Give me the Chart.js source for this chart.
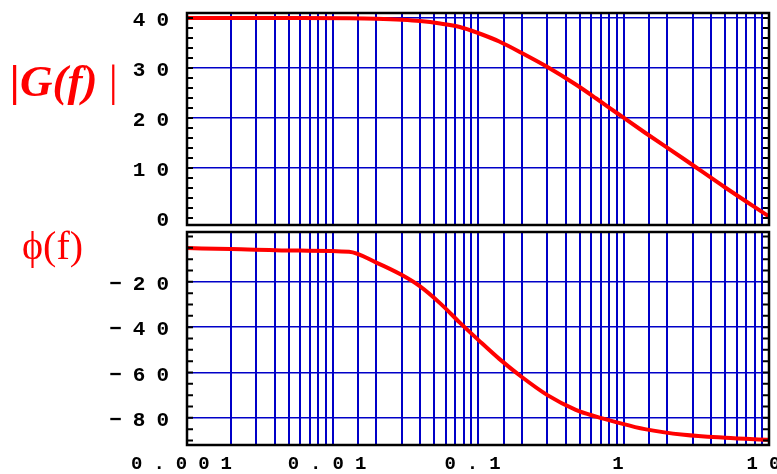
<!DOCTYPE html>
<html>
<head>
<meta charset="utf-8">
<script src="https://cdn.jsdelivr.net/npm/chart.js@4/dist/chart.umd.min.js"></script>
<style>
  html, body { margin: 0; padding: 0; background: #fff; }
  #wrap { position: relative; width: 777px; height: 474px; overflow: hidden; }
  #magBox { position: absolute; left: 0; top: 0; }
  #phaseBox { position: absolute; left: 0; top: 227px; }
  .lbl { position: absolute; color: #ff0000; font-family: "Liberation Serif", serif; line-height: 1; white-space: nowrap; }
  #magLabel { left: 10px; top: 59px; font-size: 45px; }
  #magLabel b { font-style: italic; }
  #phaseLabel { left: 22px; top: 226px; font-size: 40px; }
</style>
</head>
<body>
<div id="wrap">
  <canvas id="magBox" width="777" height="227"></canvas>
  <canvas id="phaseBox" width="777" height="247"></canvas>
  <div class="lbl" id="magLabel"><b>|G(f)</b> |</div>
  <div class="lbl" id="phaseLabel">ϕ(f)</div>
</div>
<script>
// values
const freq     = [0.001, 0.002, 0.006, 0.013, 0.02, 0.03, 0.04, 0.055, 0.075, 0.1, 0.14, 0.2, 0.3, 0.47, 0.65, 0.9, 1.4, 2.6, 5, 10];
const gainDb   = [40, 40, 40, 39.95, 39.85, 39.65, 39.4, 38.9, 38.2, 37.0, 35.3, 33.0, 30.2, 26.7, 23.9, 21.0, 17.1, 11.8, 6.1, 0.3];
const phaseDeg = [-5.1, -5.5, -6.2, -6.7, -11.5, -17, -22, -29.5, -38, -45.5, -54, -62, -70, -76.5, -79.5, -82, -85, -87.5, -88.8, -89.7];

const magTicks = [0, 10, 20, 30, 40];
const phaseTicks = [-20, -40, -60, -80];
const freqTicks = [0.001, 0.01, 0.1, 1, 10];
const freqTickLabels = ["0.001", "0.01", "0.1", "1", "10"];

const gridBlue = "#0000c8";
const yFont = { family: '"Liberation Mono", monospace', size: 21, weight: "bold" };
const xFont = { family: '"Liberation Mono", monospace', size: 19, weight: "bold" };

// wide letter spacing for the tick labels, a box round the plot and small inside ticks
const framePlugin = {
    id: "frame",
    beforeUpdate(chart) { chart.ctx.letterSpacing = "11px"; },
    beforeDraw(chart) { chart.ctx.letterSpacing = "11px"; },
    afterDraw(chart, args, opts) {
        const ctx = chart.ctx;
        const a = chart.chartArea;
        const y = chart.scales.y;
        ctx.save();
        ctx.strokeStyle = "#000";
        ctx.lineWidth = 2;
        ctx.beginPath();
        const start = Math.ceil(y.min / opts.step) * opts.step;
        for (let v = start; v <= y.max; v += opts.step) {
            const py = y.getPixelForValue(v);
            ctx.moveTo(a.left, py);
            ctx.lineTo(a.left + 6, py);
            ctx.moveTo(a.right, py);
            ctx.lineTo(a.right - 6, py);
        }
        ctx.stroke();
        ctx.lineWidth = 2.5;
        ctx.strokeRect(a.left, a.top, a.right - a.left, a.bottom - a.top);
        ctx.restore();
    }
};

function makePanel(canvasId, values, yMin, yMax, yTicks, yLabel, minorStep, showX, pad) {
    const ctx = document.getElementById(canvasId).getContext("2d");
    return new Chart(ctx, {
        type: "line",
        data: {
            datasets: [{
                data: freq.map((f, i) => ({ x: f, y: values[i] })),
                borderColor: "#ff0000",
                borderWidth: 4,
                pointRadius: 0,
                cubicInterpolationMode: "monotone",
                fill: false
            }]
        },
        options: {
            responsive: false,
            animation: false,
            devicePixelRatio: 1,
            layout: { padding: pad },
            plugins: {
                legend: { display: false },
                tooltip: { enabled: false },
                frame: { step: minorStep }
            },
            scales: {
                x: {
                    type: "logarithmic",
                    min: 0.001,
                    max: 10,
                    border: { display: false },
                    grid: { color: gridBlue, lineWidth: 2, drawTicks: false },
                    ticks: {
                        display: showX,
                        autoSkip: false,
                        maxRotation: 0,
                        padding: 8,
                        color: "#000",
                        font: xFont,
                        callback: function (value) {
                            const idx = freqTicks.findIndex(f => Math.abs(Math.log10(f) - Math.log10(value)) < 1e-6);
                            return idx >= 0 ? freqTickLabels[idx] : "";
                        }
                    },
                    afterFit: function (scale) {
                        scale.height = showX ? 29 : 0;
                        scale.paddingLeft = 0;
                        scale.paddingRight = 0;
                    }
                },
                y: {
                    min: yMin,
                    max: yMax,
                    border: { display: false },
                    grid: {
                        drawTicks: false,
                        lineWidth: 1.5,
                        color: c => (c.tick && c.tick.value === 0) ? "rgba(0,0,0,0)" : gridBlue
                    },
                    ticks: {
                        padding: 7,
                        labelOffset: 3,
                        color: "#000",
                        font: yFont,
                        callback: function (value) { return yLabel(value); }
                    },
                    afterBuildTicks: function (scale) {
                        scale.ticks = yTicks.map(v => ({ value: v }));
                    },
                    afterFit: function (scale) {
                        scale.width = 187;
                        scale.paddingTop = 0;
                        scale.paddingBottom = 0;
                    }
                }
            }
        },
        plugins: [framePlugin]
    });
}

makePanel("magBox", gainDb, -1.4, 41, magTicks, v => String(v), 2, false,
    { left: 0, right: 8, top: 13, bottom: 2 });
makePanel("phaseBox", phaseDeg, -92, 2, phaseTicks, v => "\u2212" + Math.abs(v), 5, true,
    { left: 0, right: 8, top: 5, bottom: 0 });
</script>
</body>
</html>
